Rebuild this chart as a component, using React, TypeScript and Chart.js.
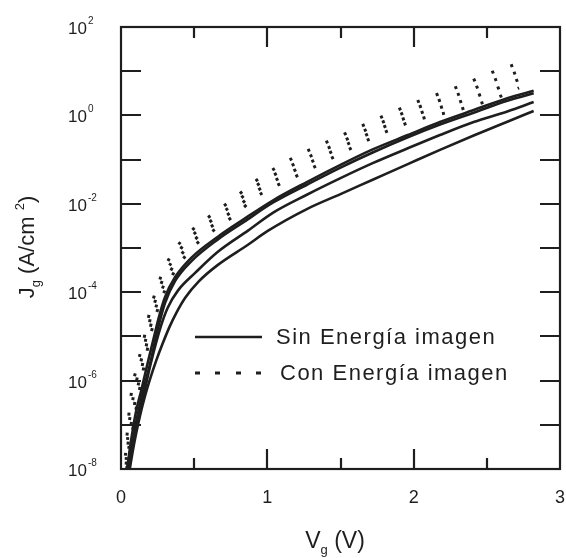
import React, { useEffect, useRef } from "react";
import { Chart, registerables } from "chart.js";

Chart.register(...registerables);

// ---- Data (Vg in volts, Jg in A/cm^2) ----
// "Sin Energía imagen" (solid)
const sin1V = [0.04, 0.05, 0.06, 0.10, 0.14, 0.19, 0.23, 0.26, 0.30, 0.37, 0.48, 0.66, 0.84, 1.04, 1.27, 1.50, 1.72, 1.96, 2.18, 2.41, 2.64, 2.82];
const sin1J = [1e-8, 1.6e-8, 2.8e-8, 1.8e-7, 6.3e-7, 3.2e-6, 1.12e-5, 2.8e-5, 7.6e-5, 2.2e-4, 6e-4, 1.78e-3, 4.5e-3, 1.2e-2, 3.1e-2, 7.6e-2, 1.7e-1, 3.6e-1, 7.1e-1, 1.32, 2.45, 3.6];

const sin2V = [0.05, 0.10, 0.15, 0.20, 0.25, 0.30, 0.37, 0.48, 0.66, 0.84, 1.04, 1.27, 1.50, 1.72, 1.96, 2.18, 2.41, 2.64, 2.82];
const sin2J = [1e-8, 1e-7, 5.6e-7, 2.5e-6, 1.4e-5, 5.6e-5, 1.8e-4, 5e-4, 1.55e-3, 3.9e-3, 1.07e-2, 2.7e-2, 6.6e-2, 1.45e-1, 3.2e-1, 6.2e-1, 1.15, 2.14, 3.16];

const sin3V = [0.05, 0.10, 0.15, 0.20, 0.27, 0.32, 0.39, 0.51, 0.66, 0.87, 1.04, 1.27, 1.50, 1.72, 1.96, 2.18, 2.41, 2.64, 2.82];
const sin3J = [1e-8, 7.9e-8, 4e-7, 2.2e-6, 1.6e-5, 4.5e-5, 1.1e-4, 2.8e-4, 8.1e-4, 2.5e-3, 6.3e-3, 1.6e-2, 3.8e-2, 8.3e-2, 1.8e-1, 3.6e-1, 7.1e-1, 1.23, 2.0];

const sin4V = [0.06, 0.08, 0.10, 0.13, 0.16, 0.20, 0.24, 0.28, 0.33, 0.38, 0.44, 0.53, 0.66, 0.87, 1.00, 1.27, 1.50, 1.72, 1.96, 2.18, 2.41, 2.64, 2.82];
const sin4J = [1e-8, 2.5e-8, 5.6e-8, 1.6e-7, 4e-7, 1.12e-6, 2.8e-6, 6.3e-6, 1.6e-5, 3.5e-5, 7.6e-5, 1.74e-4, 4.1e-4, 1.2e-3, 2.4e-3, 7.6e-3, 1.66e-2, 3.5e-2, 7.9e-2, 1.66e-1, 3.5e-1, 7.2e-1, 1.26];

// "Con Energía imagen" (dotted)
const con1V = [0.03, 0.05, 0.07, 0.10, 0.15, 0.20, 0.25, 0.30, 0.38, 0.50, 0.64, 0.78, 0.92, 1.19, 1.48, 1.75, 2.02, 2.30, 2.58, 2.72];
const con1J = [2e-8, 1.26e-7, 5e-7, 1.6e-6, 7.1e-6, 4e-5, 1.4e-4, 3.7e-4, 1.05e-3, 2.8e-3, 6.3e-3, 1.4e-2, 3.3e-2, 1.15e-1, 3.2e-1, 8.3e-1, 2.0, 4.4, 10.7, 15];

const con2V = [0.035, 0.05, 0.07, 0.10, 0.15, 0.20, 0.25, 0.30, 0.38, 0.50, 0.64, 0.78, 0.92, 1.19, 1.48, 1.75, 2.02, 2.30, 2.58, 2.72];
const con2J = [1.6e-8, 7.4e-8, 2.3e-7, 7.9e-7, 4.3e-6, 2.5e-5, 9.3e-5, 2.5e-4, 7.2e-4, 2.1e-3, 4.7e-3, 1.05e-2, 2.5e-2, 8.1e-2, 2.3e-1, 6.2e-1, 1.48, 2.95, 6.8, 9.8];

const con3V = [0.035, 0.05, 0.07, 0.10, 0.15, 0.20, 0.25, 0.30, 0.38, 0.50, 0.64, 0.78, 0.92, 1.19, 1.48, 1.75, 2.02, 2.30, 2.58, 2.72];
const con3J = [1.26e-8, 4.3e-8, 1.07e-7, 4e-7, 2.6e-6, 1.6e-5, 6e-5, 1.66e-4, 5.1e-4, 1.5e-3, 3.5e-3, 7.6e-3, 1.86e-2, 5.8e-2, 1.74e-1, 4.7e-1, 1.07, 1.95, 4.2, 6.5];

const con4V = [0.04, 0.05, 0.07, 0.10, 0.15, 0.20, 0.25, 0.30, 0.38, 0.50, 0.64, 0.78, 0.92, 1.19, 1.48, 1.75, 2.02, 2.30, 2.58, 2.72];
const con4J = [1e-8, 2.5e-8, 5e-8, 2e-7, 1.6e-6, 1e-5, 4e-5, 1.1e-4, 3.5e-4, 1.1e-3, 2.6e-3, 5.6e-3, 1.4e-2, 4.1e-2, 1.26e-1, 3.5e-1, 7.9e-1, 1.32, 2.6, 4.2];

// ---- Axes ----
const xMin = 0;
const xMax = 3;
const xTickLabels = [0, 1, 2, 3];
const xMajorTicks = [1, 2];
const xMinorTicks = [0.5, 1.5, 2.5];
const yMin = 1e-8;
const yMax = 1e2;
const yLabelExps = [2, 0, -2, -4, -6, -8];
const yTickExps = [1, 0, -1, -2, -3, -4, -5, -6, -7];

const legendSin = "Sin Energía imagen";
const legendCon = "Con Energía imagen";

const INK = "#1e1e1e";
const FONT = "Arial, 'Liberation Sans', sans-serif";

function pts(v: number[], j: number[]) {
  return v.map((x, i) => ({ x, y: j[i] }));
}

const framePlugin = {
  id: "framePlugin",
  afterDatasetsDraw(chart: any) {
    const ctx: CanvasRenderingContext2D = chart.ctx;
    const { left, right, top, bottom } = chart.chartArea;
    const xs = chart.scales.x;
    const ys = chart.scales.y;
    ctx.save();
    ctx.strokeStyle = INK;
    ctx.fillStyle = INK;
    ctx.lineWidth = 2.2;
    ctx.lineCap = "butt";
    // frame
    ctx.strokeRect(left, top, right - left, bottom - top);
    // y ticks (both sides, inward)
    ctx.beginPath();
    yTickExps.forEach((e) => {
      const y = Math.round(ys.getPixelForValue(Math.pow(10, e)));
      ctx.moveTo(left, y);
      ctx.lineTo(left + 20, y);
      ctx.moveTo(right, y);
      ctx.lineTo(right - 20, y);
    });
    // x ticks (top & bottom, inward)
    xMajorTicks.forEach((v) => {
      const x = Math.round(xs.getPixelForValue(v));
      ctx.moveTo(x, bottom);
      ctx.lineTo(x, bottom - 20);
      ctx.moveTo(x, top);
      ctx.lineTo(x, top + 20);
    });
    xMinorTicks.forEach((v) => {
      const x = Math.round(xs.getPixelForValue(v));
      ctx.moveTo(x, bottom);
      ctx.lineTo(x, bottom - 11);
      ctx.moveTo(x, top);
      ctx.lineTo(x, top + 11);
    });
    ctx.stroke();

    // x tick labels
    ctx.font = `18px ${FONT}`;
    ctx.textAlign = "center";
    ctx.textBaseline = "middle";
    xTickLabels.forEach((v) => {
      ctx.fillText(String(v), xs.getPixelForValue(v), bottom + 29);
    });

    // y tick labels: 10^e (left aligned)
    yLabelExps.forEach((e) => {
      const y = ys.getPixelForValue(Math.pow(10, e));
      const sup = e < 0 ? "-" + Math.abs(e) : String(e);
      ctx.textAlign = "left";
      ctx.textBaseline = "alphabetic";
      ctx.font = `17px ${FONT}`;
      const wBase = ctx.measureText("10").width;
      const x0 = 68;
      ctx.fillText("10", x0, y + 7);
      ctx.font = `10px ${FONT}`;
      ctx.fillText(sup, x0 + wBase + 1, y - 3);
    });

    // x title: Vg (V)
    {
      const cx = 335;
      const by = 548;
      ctx.textBaseline = "alphabetic";
      ctx.textAlign = "left";
      ctx.font = `23px ${FONT}`;
      const wV = ctx.measureText("V").width;
      const wRest = ctx.measureText(" (V)").width;
      ctx.font = `13px ${FONT}`;
      const wg = ctx.measureText("g").width;
      const total = wV + wg + wRest;
      let x = cx - total / 2;
      ctx.font = `23px ${FONT}`;
      ctx.fillText("V", x, by);
      x += wV;
      ctx.font = `13px ${FONT}`;
      ctx.fillText("g", x, by + 6);
      x += wg;
      ctx.font = `23px ${FONT}`;
      ctx.fillText(" (V)", x, by);
    }

    // y title: Jg (A/cm 2)
    {
      ctx.save();
      ctx.translate(34, 247);
      ctx.rotate(-Math.PI / 2);
      ctx.textBaseline = "alphabetic";
      ctx.textAlign = "left";
      ctx.font = `22px ${FONT}`;
      const wJ = ctx.measureText("J").width;
      const wMid = ctx.measureText(" (A/cm ").width;
      const wEnd = ctx.measureText(")").width;
      ctx.font = `13px ${FONT}`;
      const wg = ctx.measureText("g").width;
      const w2 = ctx.measureText("2").width;
      const total = wJ + wg + wMid + w2 + wEnd;
      let x = -total / 2;
      ctx.font = `22px ${FONT}`;
      ctx.fillText("J", x, 0);
      x += wJ;
      ctx.font = `13px ${FONT}`;
      ctx.fillText("g", x, 6);
      x += wg;
      ctx.font = `22px ${FONT}`;
      ctx.fillText(" (A/cm ", x, 0);
      x += wMid;
      ctx.font = `13px ${FONT}`;
      ctx.fillText("2", x, -10);
      x += w2;
      ctx.font = `22px ${FONT}`;
      ctx.fillText(")", x, 0);
      ctx.restore();
    }

    // legend
    {
      ctx.lineWidth = 2.5;
      ctx.beginPath();
      ctx.moveTo(195, 337);
      ctx.lineTo(262, 337);
      ctx.stroke();
      ctx.lineWidth = 3;
      ctx.beginPath();
      [195, 215, 236, 256].forEach((x) => {
        ctx.moveTo(x, 373);
        ctx.lineTo(x + 5, 373);
      });
      ctx.stroke();
      ctx.font = `22px ${FONT}`;
      (ctx as any).letterSpacing = "1.5px";
      ctx.textAlign = "left";
      ctx.textBaseline = "middle";
      ctx.fillText(legendSin, 276, 338);
      ctx.fillText(legendCon, 280, 374);
    }
    ctx.restore();
  },
};

export default function App() {
  const canvasRef = useRef<HTMLCanvasElement | null>(null);

  useEffect(() => {
    document.body.style.margin = "0";
    const canvas = canvasRef.current;
    if (!canvas) return;
    const solid = (data: any) => ({
      data,
      borderColor: INK,
      borderWidth: 2.6,
      pointRadius: 0,
      fill: false,
      cubicInterpolationMode: "monotone",
    });
    const dotted = (data: any) => ({
      data,
      borderColor: INK,
      borderWidth: 3,
      borderDash: [3, 17],
      pointRadius: 0,
      fill: false,
      cubicInterpolationMode: "monotone",
    });
    const chart = new Chart(canvas, {
      type: "line",
      data: {
        datasets: [
          { label: legendSin, ...solid(pts(sin1V, sin1J)) },
          { label: legendSin, ...solid(pts(sin2V, sin2J)) },
          { label: legendSin, ...solid(pts(sin3V, sin3J)) },
          { label: legendSin, ...solid(pts(sin4V, sin4J)) },
          { label: legendCon, ...dotted(pts(con1V, con1J)) },
          { label: legendCon, ...dotted(pts(con2V, con2J)) },
          { label: legendCon, ...dotted(pts(con3V, con3J)) },
          { label: legendCon, ...dotted(pts(con4V, con4J)) },
        ] as any,
      },
      options: {
        responsive: false,
        animation: false,
        layout: { padding: { left: 121, top: 27, right: 6, bottom: 89 } },
        scales: {
          x: { type: "linear", min: xMin, max: xMax, display: false },
          y: { type: "logarithmic", min: yMin, max: yMax, display: false },
        },
        plugins: {
          legend: { display: false },
          tooltip: { enabled: false },
        },
      },
      plugins: [framePlugin],
    });
    return () => chart.destroy();
  }, []);

  return (
    <div style={{ position: "absolute", left: 0, top: 0, width: 566, height: 558, background: "#fff" }}>
      <canvas ref={canvasRef} width={566} height={558} />
    </div>
  );
}
